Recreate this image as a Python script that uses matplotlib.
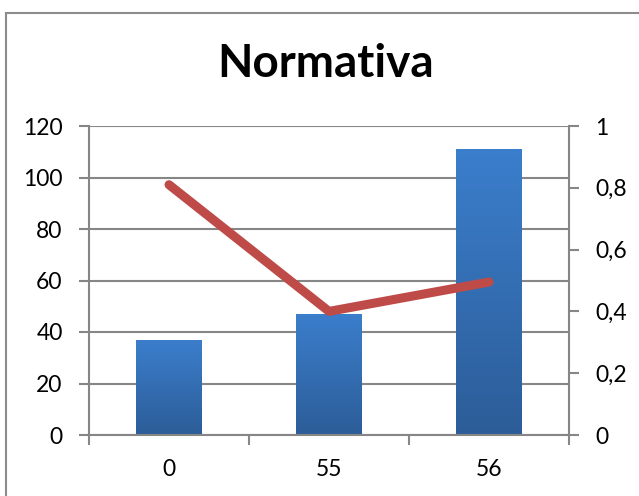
import matplotlib
matplotlib.use("Agg")
import matplotlib.pyplot as plt
import numpy as np
from matplotlib.colors import LinearSegmentedColormap
from matplotlib.lines import Line2D

# Data
categories = ["0", "55", "56"]
bar_values = [37, 47, 111]
line_values = [0.81, 0.40, 0.495]
left_ticks = [0, 20, 40, 60, 80, 100, 120]
right_ticks = [0, 0.2, 0.4, 0.6, 0.8, 1.0]
right_tick_labels = ["0", "0,2", "0,4", "0,6", "0,8", "1"]
title = "Normativa"

plt.rcParams["font.family"] = ["Lato", "DejaVu Sans"]

W, H = 639, 496
fig = plt.figure(figsize=(W / 100, H / 100), dpi=100)

# outer chart frame (left and top edges visible)
frame_col = "#8c8c8c"
fig.add_artist(Line2D([6 / W, 6 / W], [0, 1 - 13 / H], color=frame_col, lw=1.5,
                      transform=fig.transFigure))
fig.add_artist(Line2D([6 / W, 1], [1 - 13 / H, 1 - 13 / H], color=frame_col, lw=1.5,
                      transform=fig.transFigure))

ax = fig.add_axes([89 / W, 61 / H, 480 / W, 309 / H])
x = np.arange(len(categories))

grid_col = "#868686"
ax.set_xlim(-0.5, len(categories) - 0.5)
ax.set_ylim(0, 120)
ax.set_yticks(left_ticks)
ax.yaxis.grid(True, color=grid_col, lw=1.5)
ax.set_axisbelow(True)
for s in ["top", "right"]:
    ax.spines[s].set_visible(False)
for s in ["left", "bottom"]:
    ax.spines[s].set_color(grid_col)
    ax.spines[s].set_linewidth(1.5)

# bars with vertical gradient fill
cmap = LinearSegmentedColormap.from_list("barblue", ["#2c5d98", "#3b7ecc"])
bars = ax.bar(x, bar_values, width=0.41, facecolor="none", edgecolor="none", zorder=2)
grad = np.linspace(0, 1, 256).reshape(-1, 1)
for b in bars:
    x0, y0 = b.get_x(), b.get_y()
    im = ax.imshow(grad, cmap=cmap, aspect="auto", origin="lower",
                   extent=[x0, x0 + b.get_width(), y0, y0 + b.get_height()],
                   zorder=2)
    im.set_clip_path(b)
ax.set_xlim(-0.5, len(categories) - 0.5)
ax.set_ylim(0, 120)

# category boundaries as major ticks, labels centred as minor ticks
ax.set_xticks(np.arange(-0.5, len(categories), 1.0))
ax.set_xticklabels([])
ax.set_xticks(x, minor=True)
ax.set_xticklabels(categories, minor=True)
ax.tick_params(axis="x", which="major", length=7, width=1.5, color=grid_col)
ax.tick_params(axis="x", which="minor", length=0, pad=17, labelsize=16.5)
ax.tick_params(axis="y", length=7, width=1.5, color=grid_col, pad=12, labelsize=16.5)

# secondary axis with the line series
ax2 = ax.twinx()
ax2.set_ylim(0, 1)
ax2.set_yticks(right_ticks)
ax2.set_yticklabels(right_tick_labels)
for s in ["top", "left", "bottom"]:
    ax2.spines[s].set_visible(False)
ax2.spines["right"].set_color(grid_col)
ax2.spines["right"].set_linewidth(1.5)
ax2.tick_params(axis="y", length=7, width=1.5, color=grid_col, pad=12, labelsize=16.5)
ax2.plot(x, line_values, color="#be4b48", lw=6.5, solid_capstyle="round",
         solid_joinstyle="round", zorder=3)

fig.text(326 / W, 1 - 64 / H, title, ha="center", va="center",
         fontsize=33, fontweight="bold")

fig.savefig("out.png", dpi=100)
